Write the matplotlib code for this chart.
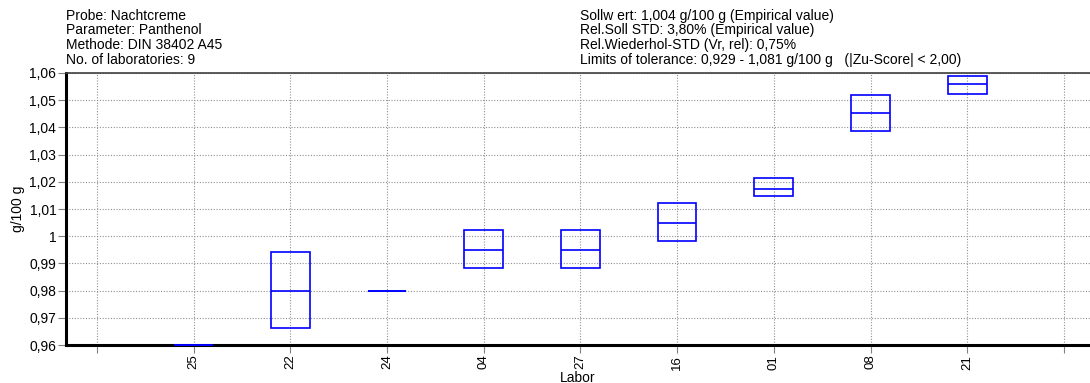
import matplotlib.pyplot as plt
import numpy as np
from matplotlib.ticker import FuncFormatter, MultipleLocator

plt.rcParams['font.family'] = ['Liberation Sans', 'DejaVu Sans']

# Labore (Reihenfolge wie im Diagramm), Position 0 und 10 bleiben leer
labore = ['', '25', '22', '24', '04', '27', '16', '01', '08', '21', '']
lo = [0.960, 0.9664, 0.980, 0.9883, 0.9883, 0.9981, 1.0147, 1.0386, 1.0524]
med = [0.960, 0.980, 0.980, 0.9949, 0.9949, 1.0050, 1.0175, 1.0452, 1.0558]
hi = [0.960, 0.9941, 0.980, 1.0022, 1.0022, 1.0121, 1.0213, 1.0519, 1.0590]

kopf_links = ("Probe: Nachtcreme\nParameter: Panthenol\n"
              "Methode: DIN 38402 A45\nNo. of laboratories: 9")
kopf_rechts = ("Sollw ert: 1,004 g/100 g (Empirical value)\n"
               "Rel.Soll STD: 3,80% (Empirical value)\n"
               "Rel.Wiederhol-STD (Vr, rel): 0,75%\n"
               "Limits of tolerance: 0,929 - 1,081 g/100 g   (|Zu-Score| < 2,00)")


def komma(v, pos):
    s = f"{v:.2f}".rstrip('0').rstrip('.')
    return s.replace('.', ',')


fig = plt.figure(figsize=(10.9, 3.83), dpi=100)
ax = fig.add_axes([0.0606, 0.0992, 0.9394, 0.7102])

x = np.arange(1, len(lo) + 1)
lo = np.array(lo)
hi = np.array(hi)
ax.bar(x, hi - lo, bottom=lo, width=0.4, fill=False, edgecolor='#0000ff',
       linewidth=1.2, zorder=3, clip_on=False)
ax.hlines(med, x - 0.2, x + 0.2, color='#0000ff', linewidth=1.2, zorder=3,
          clip_on=False)

ax.set_xlim(-0.32, 10.27)
ax.set_ylim(0.96, 1.06)
ax.set_xticks(np.arange(len(labore)))
ax.set_xticklabels(labore, rotation=90)
ax.yaxis.set_major_locator(MultipleLocator(0.01))
ax.yaxis.set_major_formatter(FuncFormatter(komma))
ax.tick_params(axis='both', direction='out', length=6, width=0.8,
               color='#808080', labelsize=10, pad=1)
ax.tick_params(axis='x', labelsize=9.5)

ax.grid(True, linestyle=(0, (1, 1.5)), color='#909090', linewidth=0.8)
ax.set_axisbelow(True)

ax.spines['right'].set_visible(False)
ax.spines['left'].set_linewidth(2.2)
ax.spines['bottom'].set_linewidth(2.2)
ax.spines['top'].set_linewidth(1.2)
ax.spines['top'].set_color('#404040')

ax.set_ylabel('g/100 g', fontsize=10, labelpad=3)
ax.set_xlabel('Labor', fontsize=10, labelpad=1)

fig.text(0.0606, 0.977, kopf_links, fontsize=10, va='top', ha='left',
         linespacing=1.06)
fig.text(0.532, 0.977, kopf_rechts, fontsize=10, va='top', ha='left',
         linespacing=1.06)

fig.savefig('out.png', dpi=100)
